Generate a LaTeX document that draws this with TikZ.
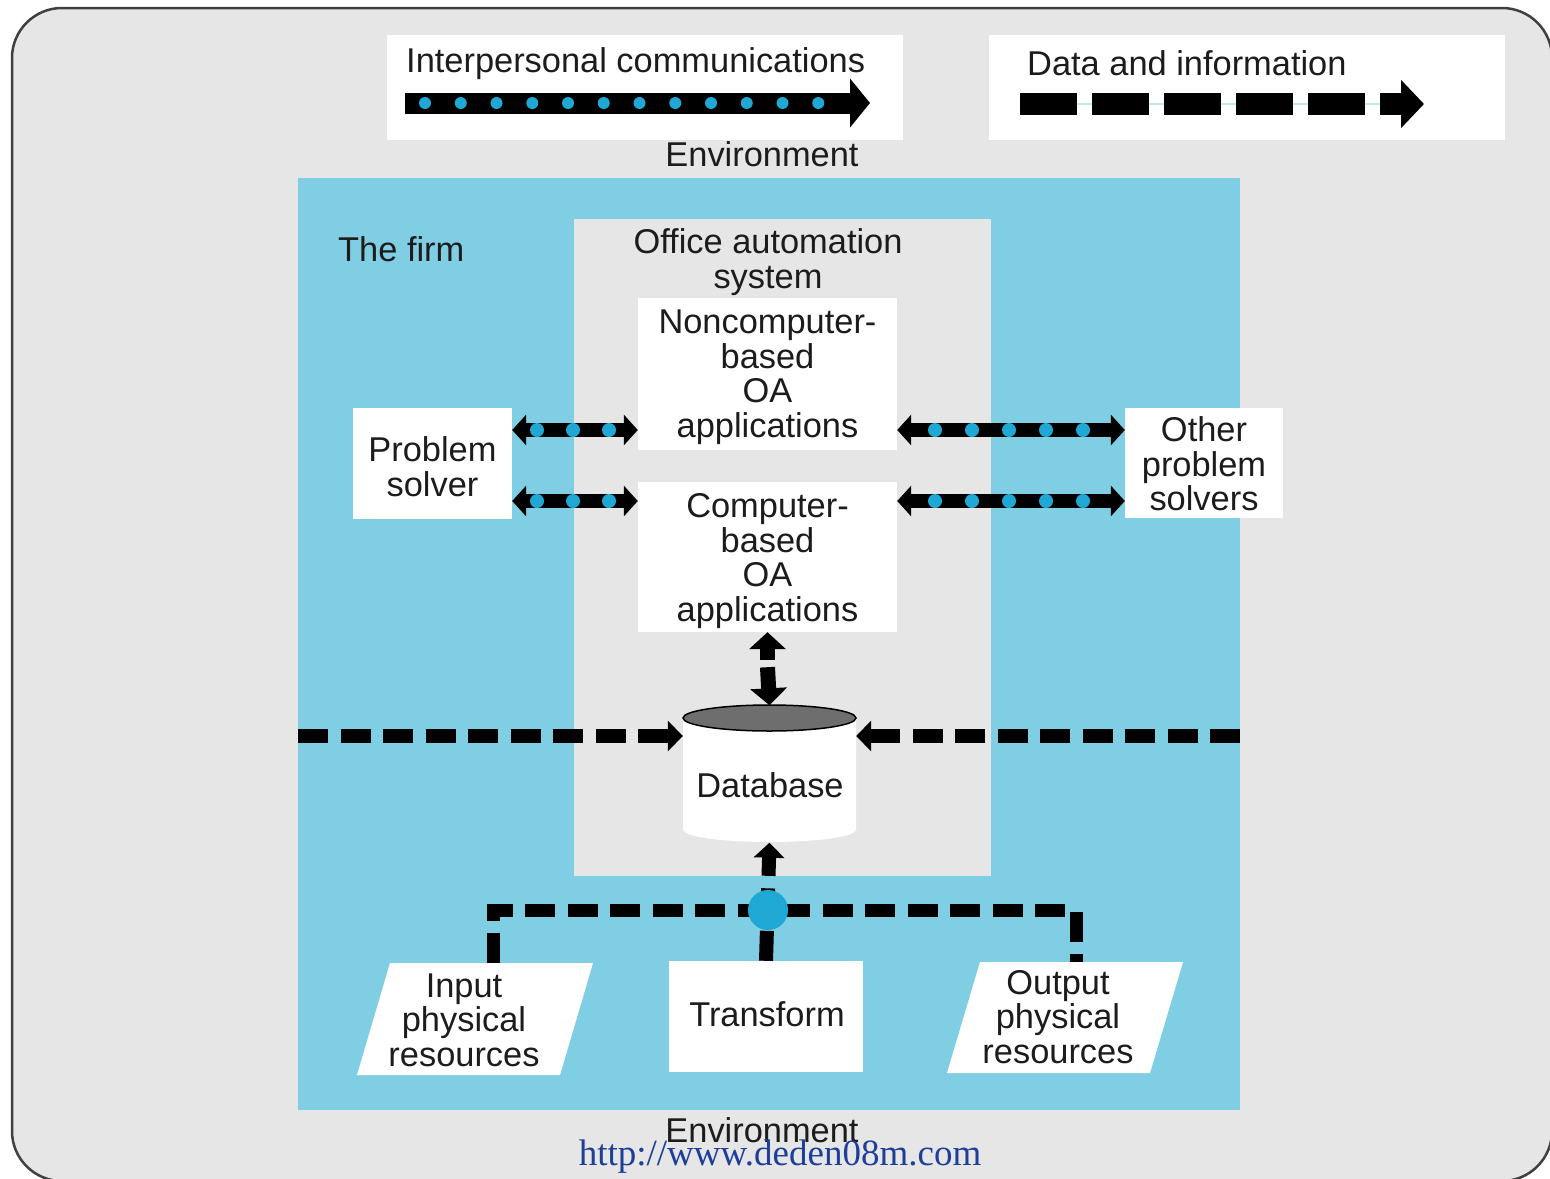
\documentclass[tikz,border=0pt]{standalone}
\usepackage{fontspec}
\setmainfont{Liberation Sans}
\newfontfamily\urlfont{Liberation Serif}
\usetikzlibrary{arrows.meta,calc}
\definecolor{envgray}{HTML}{E6E6E6}
\definecolor{firmblue}{HTML}{80CEE4}
\definecolor{dotcyan}{HTML}{1FA8D4}
\definecolor{dbgray}{HTML}{6E6E6E}
\definecolor{txt}{HTML}{1C1C1C}
\definecolor{urlblue}{HTML}{1D3F99}
\definecolor{linkcyan}{HTML}{BFE6EC}

\begin{document}
\begin{tikzpicture}[x=1pt,y=-1pt,
  lbl/.style={font=\fontsize{34.4}{34.5}\selectfont, text=txt, inner sep=0pt, align=center},
  whitebox/.style={fill=white, inner sep=0pt},
  commarrow/.style={line width=21pt, -{Triangle[width=48pt,length=20pt]}},
  dataarrow/.style={line width=22pt, dash pattern=on 57pt off 15pt, -{Triangle[width=47pt,length=23pt]}},
  dotlink/.style={line width=14pt, {Triangle[width=30pt,length=14pt]}-{Triangle[width=30pt,length=14pt]}},
  flowdash/.style={line width=14pt, dash pattern=on 30pt off 12.5pt, -{Triangle[width=30pt,length=15pt]}},
  dbarrow/.style={line width=15pt, -{Triangle[width=36pt,length=17pt]}},
  dot/.style={fill=dotcyan}
]
\useasboundingbox (0,0) rectangle (1550,1178);
\clip (0,0) rectangle (1550,1178);
\fill[white] (0,0) rectangle (1550,1178);
% environment frame
\draw[fill=envgray, draw=black!75, line width=2.5pt, rounded corners=50pt] (12,8) rectangle (1552,1181);

% legend: interpersonal communications
\node[fill=white, minimum width=516pt, minimum height=105pt, anchor=north west, inner sep=0pt] (legcomm) at (387,35) {};
\node[lbl, anchor=base west] (commtext) at (406,72) {Interpersonal communications};
\coordinate (comm0) at (405,103);
\coordinate (comm1) at (870,103);
\draw[commarrow] (comm0) -- (comm1);
\foreach \i in {0,...,11} \fill[dot] ({425+35.75*\i},103) circle (6pt);

% legend: data and information
\node[fill=white, minimum width=516pt, minimum height=105pt, anchor=north west, inner sep=0pt] (legdata) at (989,35) {};
\node[lbl, anchor=base west] (datatext) at (1027,75) {Data and information};
\coordinate (data0) at (1020,104);
\coordinate (data1) at (1424,104);
\draw[linkcyan, line width=1.5pt] (data0) -- (1400,104);
\draw[dataarrow] (data0) -- (data1);

\node[lbl, anchor=base] (envtop) at (762,166) {Environment};

% the firm
\node[fill=firmblue, minimum width=942pt, minimum height=932pt, anchor=north west, inner sep=0pt] (firm) at (298,178) {};
\node[lbl, anchor=base west] (firmlbl) at (338,261) {The firm};

% office automation system
\node[fill=envgray, minimum width=417pt, minimum height=657pt, anchor=north west, inner sep=0pt] (oa) at (574,219) {};
\node[lbl] (oatitle) at (768,262) {Office automation\\system};
\node[whitebox, minimum width=259pt, minimum height=152pt] (ncb) at (767.5,374) {};
\node[lbl] (ncbtext) at ($(ncb.center)+(0,3)$) {Noncomputer-\\based\\OA\\applications};
\node[whitebox, minimum width=259pt, minimum height=150pt] (cb) at (767.5,557) {};
\node[lbl] (cbtext) at ($(cb.center)+(0,4)$) {Computer-\\based\\OA\\applications};

% problem solvers
\node[whitebox, minimum width=159pt, minimum height=111pt] (ps) at (432.5,463.5) {};
\node[lbl] (pstext) at ($(ps.center)+(0,3)$) {Problem\\solver};
\node[whitebox, minimum width=158pt, minimum height=110pt] (ops) at (1204,463) {};
\node[lbl] (opstext) at ($(ops.center)+(0,1)$) {Other\\problem\\solvers};

% interpersonal links
\draw[dotlink] (ps.east |- 0,430) -- (ncb.west |- 0,430);
\draw[dotlink] (ps.east |- 0,501) -- (cb.west |- 0,501);
\draw[dotlink] (ncb.east |- 0,430) -- (ops.west |- 0,430);
\draw[dotlink] (cb.east |- 0,501) -- (ops.west |- 0,501);
\foreach \y in {430,501} {
  \foreach \x in {537,573,609} \fill[dot] (\x,\y) circle (7pt);
  \foreach \x in {935,972,1009,1046,1083} \fill[dot] (\x,\y) circle (7pt);
}

% database
\node[inner sep=0pt, minimum width=173pt, minimum height=137pt] (db) at (769.5,774) {};
\fill[white] (683,718) -- (683,829) .. controls (683,846.3) and (856,846.3) .. (856,829) -- (856,718) -- cycle;
\draw[fill=dbgray, line width=1.5pt] (769.5,718) ellipse [x radius=86.5pt, y radius=13pt];
\node[lbl, anchor=base] (dblbl) at (770,797) {Database};

% database <-> computer-based applications
\draw[dbarrow] ($(cb.south)+(0,28)$) -- (cb.south);
\draw[dbarrow] ($(cb.south)+(0,35)$) -- (db.north);

% data flows from the environment
\draw[flowdash] (firm.west |- 0,736) -- (db.west |- 0,736);
\draw[flowdash] (firm.east |- 0,736) -- (db.east |- 0,736);

% physical system
\fill[white] (390,963) -- (593,963) -- (560,1075) -- (357,1075) -- cycle;
\node[lbl] (inp) at (464,1020) {Input\\physical\\resources};
\node[whitebox, minimum width=194pt, minimum height=111pt] (tr) at (766,1016.5) {};
\node[lbl, anchor=base] (trtext) at (767,1026) {Transform};
\fill[white] (980,962) -- (1183,962) -- (1150,1073) -- (947,1073) -- cycle;
\node[lbl] (outp) at (1058,1017) {Output\\physical\\resources};

\coordinate (inpin) at (493,963);
\coordinate (outin) at (1076,962);
\draw[line width=13pt, dash pattern=on 30pt off 12.5pt] (inpin) -- (493,910) -- (1076,910) -- (outin);
\draw[flowdash] (tr.north) -- (db.south);
\node[circle, fill=dotcyan, minimum size=40pt, inner sep=0pt] (hub) at (768,910) {};

\node[lbl, anchor=base] (envbot) at (762,1142) {Environment};
\node[font=\urlfont\fontsize{37}{40}\selectfont, text=urlblue, anchor=base, inner sep=0pt] (url) at (780,1165) {http://www.deden08m.com};
\end{tikzpicture}
\end{document}
